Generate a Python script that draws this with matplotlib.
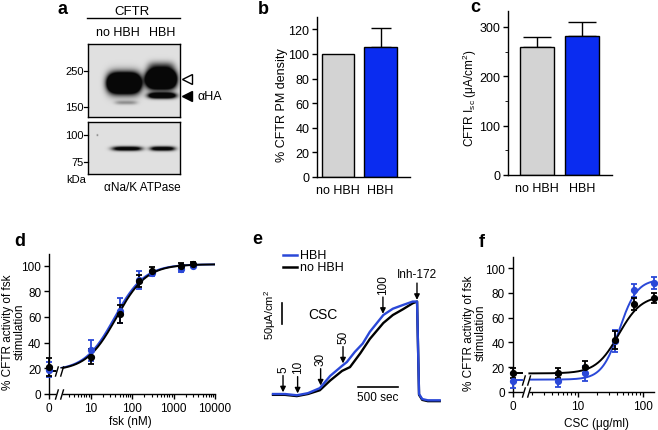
import numpy as np
import matplotlib
matplotlib.use("Agg")
import matplotlib.pyplot as plt
from matplotlib.path import Path

plt.rcParams["font.family"] = ["Liberation Sans", "DejaVu Sans"]
plt.rcParams["mathtext.default"] = "regular"
plt.rcParams["axes.linewidth"] = 1.0
plt.rcParams["font.size"] = 8

W, H = 658, 431

GREY = "#d3d3d3"
BAR_BLUE = "#0a2cf0"
BLUE = "#2a48d8"

# ── data ────────────────────────────────────────────────────────────────────
groups = ["no HBH", "HBH"]
pm_density = [100, 106]
pm_density_err = [0, 15]
isc = [260, 282]
isc_err = [20, 28]

fsk_conc = [0, 10, 50, 150, 300, 1500, 3000]
fsk_nohbh = [21, 29, 62, 88, 96, 100, 101]
fsk_nohbh_err = [7, 6, 7, 5, 3, 2, 1.5]
fsk_hbh = [19, 34, 65, 89, 94, 97, 100]
fsk_hbh_err = [6, 8, 10, 7, 2, 2, 1.5]
fsk_fit_nohbh = (18, 101, 42, 1.2)   # bottom, top, EC50, Hill
fsk_fit_hbh = (18, 101, 38, 1.2)

csc_conc = [0, 5, 13, 38, 75, 150]
csc_nohbh = [15, 15, 20, 42, 71, 76]
csc_nohbh_err = [4, 4, 5, 7, 5, 4]
csc_hbh = [9, 9, 15, 41, 82, 88]
csc_hbh_err = [6, 5, 6, 9, 5, 5]
csc_fit_nohbh = (15, 78, 43, 2.5)
csc_fit_hbh = (10, 91, 44, 3.2)

# Ussing chamber traces (sec, uA/cm2)
trace_t_hbh = [0, 150, 300, 440, 590, 720, 870, 930, 1030, 1130, 1220, 1390,
               1510, 1640, 1760, 1815, 1840, 1880, 1950, 2100]
trace_hbh = [0, 0, -3, 2, 14, 43, 67, 76, 100, 120, 148, 188,
             203, 212, 220, 220, 0, -12, -15, -15]
trace_t_nohbh = [0, 150, 300, 440, 590, 720, 870, 970, 1100, 1220, 1390,
                 1510, 1640, 1760, 1815, 1840, 1880, 1950, 2100]
trace_nohbh = [-2, -2, -5, 0, 9, 32, 55, 64, 97, 131, 169,
               188, 202, 216, 220, -2, -14, -17, -17]
csc_doses = ["5", "10", "30", "50", "100"]
csc_times = [126, 310, 600, 882, 1385]
inh_time = 1814


def px_axes(fig, left, top, right, bottom):
    return fig.add_axes([left / W, 1 - bottom / H, (right - left) / W, (bottom - top) / H])


def style_axes(ax, size=8.5):
    for s in ("top", "right"):
        ax.spines[s].set_visible(False)
    ax.tick_params(direction="out", length=3.5, width=1, labelsize=size, pad=2)


def hill(c, bottom, top, ec50, n):
    c = np.asarray(c, dtype=float)
    return bottom + (top - bottom) / (1 + (ec50 / np.maximum(c, 1e-9)) ** n)


def to_pos(c):
    c = np.asarray(c, dtype=float)
    return np.where(c > 0, np.log10(np.maximum(c, 1e-9)), 0.0)


BREAK = Path([(-0.8, -1), (-0.2, 1), (0.2, -1), (0.8, 1)],
             [Path.MOVETO, Path.LINETO, Path.MOVETO, Path.LINETO])


def break_mark(ax, x, y):
    ax.plot([x], [y], marker="s", ms=5, mfc="white", mec="none", clip_on=False, zorder=6)
    ax.plot([x], [y], marker=BREAK, ms=7.5, mec="k", mew=1, clip_on=False, zorder=7)


def dose_panel(ax, conc, series, fits, xmax, ndec, brk):
    pos = to_pos(conc)
    for (vals, err, col), fit in zip(series, fits):
        xs = np.linspace(brk + 0.06, xmax, 300)
        ax.plot(xs, hill(10 ** xs, *fit), color=col, lw=1.4, zorder=3)
        ax.plot([0, brk - 0.06], [fit[0], fit[0]], color=col, lw=1.4, zorder=3)
        eb = ax.errorbar(pos, vals, yerr=err, fmt="o", ms=4.2, color=col,
                         capsize=2, elinewidth=1.3, capthick=1.3, zorder=4)
        for art in eb.lines[0:1] + eb.lines[1] + eb.lines[2]:
            art.set_clip_on(False)
    break_mark(ax, brk, 0)
    break_mark(ax, brk, fits[0][0])
    ax.set_xlim(0, xmax)
    ax.set_ylim(0, 109)
    ax.set_yticks(range(0, 101, 20))
    ax.set_xticks(range(ndec + 1))
    ax.set_xticklabels(["0"] + [str(10 ** k) for k in range(1, ndec + 1)])
    minors = [np.log10(m * 10 ** k) for k in range(ndec) for m in range(2, 10)]
    minors = [m for m in minors if brk + 0.08 < m <= xmax + 1e-6]
    ax.set_xticks(minors, minor=True)
    style_axes(ax, 8.5)
    ax.tick_params(axis="x", which="minor", length=2, width=0.8)


def blot_image(w, h, bands, bg=0.88, k=4):
    yy, xx = np.mgrid[0:h * k, 0:w * k] / k
    dark = np.zeros_like(xx)
    for cx, cy, sx, sy, amp in bands:
        dark += amp * np.exp(-((xx - cx) / sx) ** 4 - ((yy - cy) / sy) ** 2)
    return np.clip(bg - dark, 0.03, 1)


fig = plt.figure(figsize=(W / 100, H / 100), dpi=100)

# ── a: western blot ─────────────────────────────────────────────────────────
top_bands = [(36, 39, 16, 9, 3.2), (38, 58.5, 11, 2, 0.3),
             (73, 35, 14.5, 8.5, 3.2), (73, 22, 13, 5, 0.4), (74, 51.5, 14, 2.8, 1.6)]
bot_bands = [(39, 26.5, 15, 2.2, 1.2), (74.5, 26.5, 12.5, 2.2, 1.2), (9.3, 13, 0.8, 0.8, 0.5)]
for (t, b, bands) in [(45, 118, top_bands), (123, 175, bot_bands)]:
    axb = px_axes(fig, 88, t, 180, b)
    axb.imshow(blot_image(92, b - t, bands), cmap="gray", vmin=0, vmax=1,
               extent=(0, 92, b - t, 0), aspect="auto", interpolation="bilinear")
    axb.set_xticks([])
    axb.set_yticks([])

ov = fig.add_axes([0, 0, 1, 1])
ov.set_xlim(0, W)
ov.set_ylim(H, 0)
ov.axis("off")

ov.plot([87, 180], [19, 19], color="k", lw=1)
ov.text(132, 12, "CFTR", ha="center", va="center", fontsize=9.5)
ov.text(118, 33, "no HBH", ha="center", va="center", fontsize=9)
ov.text(162.5, 33, "HBH", ha="center", va="center", fontsize=9)
for lab, y in [("250", 72), ("150", 108), ("100", 136), ("75", 163)]:
    ov.text(84, y, lab, ha="right", va="center", fontsize=8)
    ov.plot([84, 88], [y, y], color="k", lw=0.9)
ov.text(76, 180, "kDa", ha="center", va="center", fontsize=8)
ov.text(142, 188, "αNa/K ATPase", ha="center", va="center", fontsize=8.5)
ov.plot([187], [80], marker="<", ms=7.5, mfc="white", mec="k", mew=1)
ov.plot([187], [97], marker="<", ms=7.5, mfc="k", mec="k")
ov.text(197, 97, "αHA", ha="left", va="center", fontsize=9)

for lab, x, y in [("a", 63, 9), ("b", 263, 10), ("c", 475, 8),
                  ("d", 20, 242), ("e", 257, 240), ("f", 482, 243)]:
    ov.text(x, y, lab, ha="center", va="center", fontsize=13, fontweight="bold")

# ── b: PM density ───────────────────────────────────────────────────────────
ax_b = px_axes(fig, 317, 18, 410, 178)
xb = np.arange(len(groups))
ax_b.bar(xb, pm_density, width=0.76, color=[GREY, BAR_BLUE], edgecolor="k", lw=1, zorder=2)
ax_b.errorbar(xb[1:], pm_density[1:], yerr=[[0], pm_density_err[1:]], fmt="none",
              ecolor="k", elinewidth=1, capsize=7, capthick=1, zorder=1)
ax_b.set_xlim(-0.49, 1.69)
ax_b.set_ylim(0, 130)
ax_b.set_yticks(range(0, 121, 20))
ax_b.set_xticks(xb)
ax_b.set_xticklabels(groups)
style_axes(ax_b, 9)
ax_b.tick_params(axis="x", length=0, pad=5)
ov.text(282, 105, "% CFTR PM density", rotation=90, ha="center", va="center", fontsize=9)

# ── c: Isc ──────────────────────────────────────────────────────────────────
ax_c = px_axes(fig, 508, 12, 612, 176)
ax_c.bar(xb, isc, width=0.756, color=[GREY, BAR_BLUE], edgecolor="k", lw=1, zorder=2)
ax_c.errorbar(xb, isc, yerr=[[0, 0], isc_err], fmt="none",
              ecolor="k", elinewidth=1, capsize=10, capthick=1, zorder=1)
ax_c.set_xlim(-0.64, 1.67)
ax_c.set_ylim(0, 332)
ax_c.set_yticks([0, 100, 200, 300])
ax_c.set_yticks([50, 150, 250], minor=True)
ax_c.set_xticks(xb)
ax_c.set_xticklabels(groups)
style_axes(ax_c, 9)
ax_c.tick_params(axis="y", which="minor", length=2)
ax_c.tick_params(axis="x", length=0, pad=5)
ov.text(470, 98, "CFTR I$_{sc}$ (μA/cm$^2$)", rotation=90, ha="center", va="center", fontsize=8.5)

# ── d: fsk dose response ────────────────────────────────────────────────────
ax_d = px_axes(fig, 49, 255, 215, 395)
dose_panel(ax_d, fsk_conc,
           [(fsk_hbh, fsk_hbh_err, BLUE), (fsk_nohbh, fsk_nohbh_err, "k")],
           [fsk_fit_hbh, fsk_fit_nohbh], 4.0, 4, 0.24)
ov.text(14, 332, "% CFTR activity of fsk\nstimulation", rotation=90,
        ha="center", va="center", fontsize=8.5, linespacing=1.0)
ov.text(130, 422, "fsk (nM)", ha="center", va="center", fontsize=8.5)
ov.plot([139], [354], "o", ms=4.2, color="k")
ov.text(151, 354, "no HBH", ha="left", va="center", fontsize=9)
ov.plot([139], [368], "o", ms=4.2, color=BLUE)
ov.text(151, 368, "HBH", ha="left", va="center", fontsize=9)

# ── e: Isc traces ───────────────────────────────────────────────────────────
ax_e = px_axes(fig, 255, 230, 445, 410)
ax_e.set_xlim(-227, 2167)
ax_e.set_ylim(-35.7, 392.7)
ax_e.axis("off")
ax_e.plot(trace_t_nohbh, trace_nohbh, color="k", lw=1.7)
ax_e.plot(trace_t_hbh, trace_hbh, color=BLUE, lw=1.7)
arrow_len, gap = 40, 8
for lab, t in zip(csc_doses, csc_times):
    tip = np.interp(t, trace_t_hbh, trace_hbh) + 4
    ax_e.annotate("", xy=(t, tip), xytext=(t, tip + arrow_len),
                  arrowprops=dict(arrowstyle="-|>", color="k", lw=1, mutation_scale=8,
                                  shrinkA=0, shrinkB=0))
    ax_e.text(t, tip + arrow_len + gap, lab, rotation=90, ha="center", va="bottom", fontsize=8.5)
tip = np.interp(inh_time, trace_t_hbh, trace_hbh) + 4
ax_e.annotate("", xy=(inh_time, tip), xytext=(inh_time, tip + arrow_len),
              arrowprops=dict(arrowstyle="-|>", color="k", lw=1, mutation_scale=8,
                              shrinkA=0, shrinkB=0))
ax_e.text(inh_time, tip + arrow_len + gap, "Inh-172", ha="center", va="bottom", fontsize=8.5)
ax_e.plot([113, 113], [167, 217], color="k", lw=1.2)
ax_e.text(-38, 190, "50μA/cm$^2$", rotation=90, ha="center", va="center", fontsize=8)
ax_e.plot([1071, 1571], [17, 17], color="k", lw=1.2)
ax_e.text(1323, -8, "500 sec", ha="center", va="center", fontsize=8.5)
ax_e.text(630, 190, "CSC", ha="center", va="center", fontsize=10)
ax_e.plot([126, 302], [331, 331], color=BLUE, lw=1.8)
ax_e.text(340, 331, "HBH", ha="left", va="center", fontsize=9)
ax_e.plot([126, 302], [303, 303], color="k", lw=1.8)
ax_e.text(340, 303, "no HBH", ha="left", va="center", fontsize=9)

# ── f: CSC dose response ────────────────────────────────────────────────────
ax_f = px_axes(fig, 512.5, 258, 654, 393)
dose_panel(ax_f, csc_conc,
           [(csc_hbh, csc_hbh_err, BLUE), (csc_nohbh, csc_nohbh_err, "k")],
           [csc_fit_hbh, csc_fit_nohbh], np.log10(150), 2, 0.2)
ov.text(475, 333, "% CFTR activity of fsk\nstimulation", rotation=90,
        ha="center", va="center", fontsize=8.5, linespacing=1.0)
ov.text(597, 424, "CSC (μg/ml)", ha="center", va="center", fontsize=8.5)
ov.plot([521.7], [276.7], "o", ms=4.2, color="k")
ov.text(533, 276.7, "no HBH", ha="left", va="center", fontsize=9)
ov.plot([521.7], [293.3], "o", ms=4.2, color=BLUE)
ov.text(533, 293.3, "HBH", ha="left", va="center", fontsize=9)

fig.savefig("out.png", dpi=100)
